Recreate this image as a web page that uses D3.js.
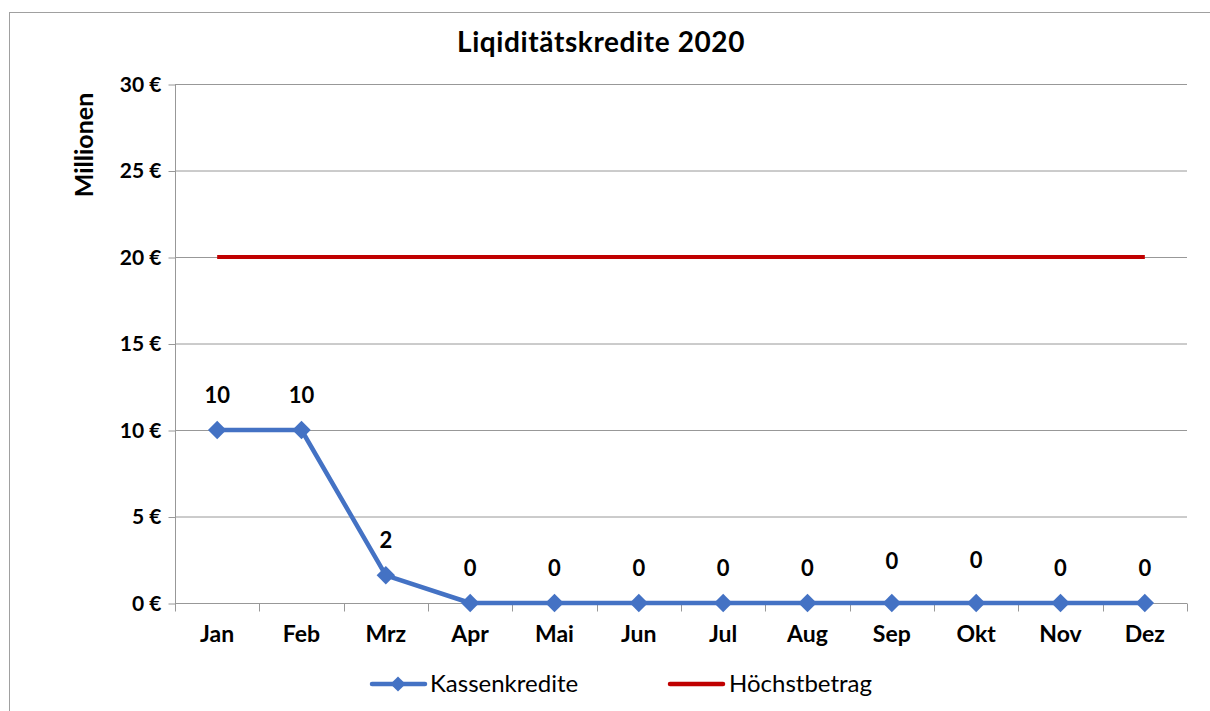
<!DOCTYPE html>
<html><head><meta charset="utf-8">
<script src="https://cdn.jsdelivr.net/npm/d3@7"></script>
<style>body{margin:0;background:#fff;} svg{display:block;font-family:Lato,"Open Sans",sans-serif;}</style>
</head><body><svg id="c" width="1210" height="711"></svg>
<script>
const categories = ["Jan","Feb","Mrz","Apr","Mai","Jun","Jul","Aug","Sep","Okt","Nov","Dez"];
const kassenkredite = [10,10,1.6,0,0,0,0,0,0,0,0,0];
const kassenLabels = ["10","10","2","0","0","0","0","0","0","0","0","0"];
const hoechstbetrag = [20,20,20,20,20,20,20,20,20,20,20,20];
const yTicks = [0,5,10,15,20,25,30];
const seriesNames = ["Kassenkredite","Höchstbetrag"];

const svg = d3.select("#c");
const M = {left:175, right:1187, top:84, bottom:603};
const x = d3.scaleBand().domain(categories).range([M.left, M.right]);
const y = d3.scaleLinear().domain([0,30]).range([M.bottom, M.top]);
const blue = "#4472C4", red = "#C00000", grid = "#989898";

svg.append("rect").attr("x",9.5).attr("y",12.5).attr("width",1300).attr("height",800)
  .attr("fill","none").attr("stroke","#a0a0a0").attr("stroke-width",1);

svg.append("text").attr("x",601).attr("y",52).attr("text-anchor","middle")
  .attr("font-weight","bold").attr("font-size",28).attr("letter-spacing",0.6).text("Liqiditätskredite 2020");

// gridlines
svg.append("g").selectAll("line").data(yTicks.filter(d=>d>0)).join("line")
  .attr("x1",M.left).attr("x2",M.right).attr("y1",d=>y(d)+0.5).attr("y2",d=>y(d)+0.5)
  .attr("stroke",grid).attr("stroke-width",1);

// y axis
const yAxis = d3.axisLeft(y).tickValues(yTicks).tickSize(7).tickPadding(7).tickFormat(d=>d+" €");
const gy = svg.append("g").attr("transform",`translate(${M.left+0.5},0.5)`).call(yAxis);
gy.select(".domain").attr("stroke",grid).attr("d",`M0,${M.top}V${M.bottom}`);
gy.selectAll(".tick line").attr("stroke",grid);
gy.selectAll("text").attr("font-size",21).attr("font-weight","bold").attr("fill","#000")
  .attr("font-family","Lato, sans-serif");

// x axis
const gx = svg.append("g").attr("transform",`translate(0,${M.bottom+0.5})`);
gx.append("line").attr("x1",M.left).attr("x2",M.right).attr("stroke",grid);
const bounds = categories.map(c=>x(c)).concat([M.right]);
gx.selectAll("line.t").data(bounds).join("line").attr("class","t")
  .attr("x1",d=>Math.round(d)+0.5).attr("x2",d=>Math.round(d)+0.5).attr("y1",0).attr("y2",8).attr("stroke",grid);
gx.selectAll("text").data(categories).join("text")
  .attr("x",d=>x(d)+x.bandwidth()/2).attr("y",38).attr("text-anchor","middle")
  .attr("font-size",23).attr("font-weight","bold").text(d=>d);

svg.append("text").attr("transform","translate(93,145) rotate(-90)").attr("text-anchor","middle")
  .attr("font-size",25).attr("font-weight","bold").text("Millionen");

const cx = d => x(d)+x.bandwidth()/2;
const line = d3.line().x(d=>cx(d.c)).y(d=>y(d.v));

svg.append("path").datum(categories.map((c,i)=>({c,v:hoechstbetrag[i]})))
  .attr("d",line).attr("fill","none").attr("stroke",red).attr("stroke-width",4);

const kd = categories.map((c,i)=>({c,v:kassenkredite[i],l:kassenLabels[i]}));
svg.append("path").datum(kd).attr("d",line).attr("fill","none").attr("stroke",blue)
  .attr("stroke-width",4.5).attr("stroke-linejoin","round");
const dia = d3.symbol().type(d3.symbolSquare).size(170);
svg.append("g").selectAll("path").data(kd).join("path")
  .attr("transform",d=>`translate(${cx(d.c)},${y(d.v)}) rotate(45)`).attr("d",dia).attr("fill",blue);

const raised = {"Sep":7,"Okt":8};
svg.append("g").selectAll("text").data(kd).join("text")
  .attr("x",d=>cx(d.c)).attr("y",d=>y(d.v)-27-(raised[d.c]||0)).attr("text-anchor","middle")
  .attr("font-size",22).attr("font-weight","bold").text(d=>d.l);

// legend
const lg = svg.append("g").attr("transform","translate(0,684)");
lg.append("line").attr("x1",372).attr("x2",425).attr("stroke",blue).attr("stroke-width",4.5).attr("stroke-linecap","round");
lg.append("path").attr("transform","translate(398,0) rotate(45)").attr("d",d3.symbol().type(d3.symbolSquare).size(115)).attr("fill",blue);
lg.append("text").attr("x",430).attr("y",8).attr("font-size",24).text(seriesNames[0]);
lg.append("line").attr("x1",670).attr("x2",723).attr("stroke",red).attr("stroke-width",4.5).attr("stroke-linecap","round");
lg.append("text").attr("x",729).attr("y",8).attr("font-size",24).text(seriesNames[1]);
</script></body></html>
